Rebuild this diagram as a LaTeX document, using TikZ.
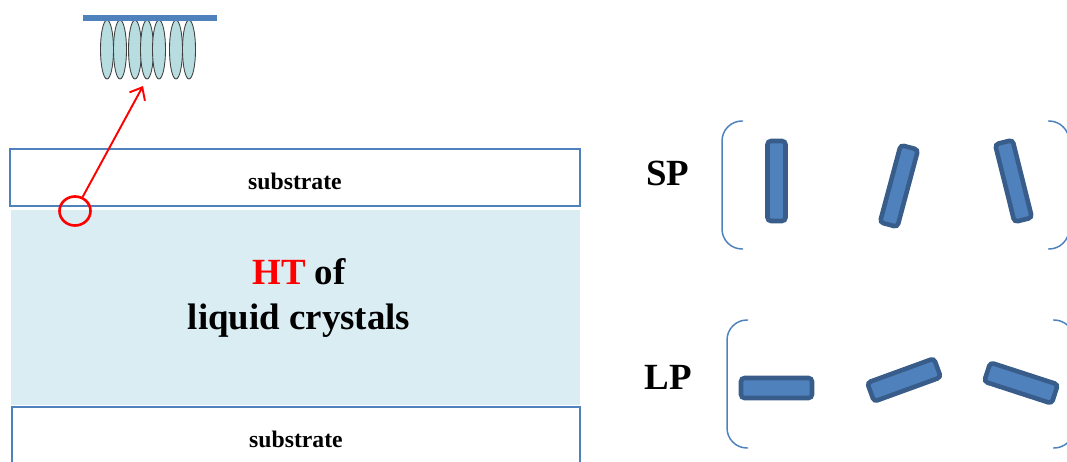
\documentclass[tikz,border=0pt]{standalone}
\usepackage{fontspec}
\setmainfont{Liberation Serif}
\usepackage{tikz}
\usetikzlibrary{arrows.meta, shapes.geometric}

\definecolor{frameblue}{RGB}{79,129,189}
\definecolor{rodedge}{RGB}{56,93,138}
\definecolor{lcblue}{RGB}{218,237,243}
\definecolor{molfill}{RGB}{183,221,224}

\begin{document}
\begin{tikzpicture}
        [
        x = 0.02cm, y = -0.02cm,
        plate/.style = {
            draw = frameblue, line width = 1.1pt,
            minimum width = 11.4cm, minimum height = 1.14cm,
        },
        platetext/.style = {
            font = \bfseries\fontsize{13.5}{16}\selectfont,
        },
        bigtext/.style = {
            align = center,
            font = \bfseries\fontsize{21}{26}\selectfont,
        },
        mol/.style = {
            draw = black!75, fill = molfill, line width = 0.5pt,
            ellipse, inner sep = 0pt,
            minimum width = 0.26cm, minimum height = 1.18cm,
        },
        rod/.style = {
            draw = rodedge, fill = frameblue, line width = 2.6pt,
            rounded corners = 2pt, inner sep = 0pt,
            minimum width = 1.6cm, minimum height = 0.36cm,
        },
        flatrod/.style = {
            rod,
            minimum width = 1.42cm, minimum height = 0.4cm,
        },
        bracket/.style = {
            draw = frameblue, line width = 0.85pt,
            rounded corners = 0.4cm,
        },
        ]

        \useasboundingbox (0,0) rectangle (1067,462);

        % Cell
        \node[plate] (top_substrate) at (295,177.5) {};
        \node[platetext] (top_label) at (295,181) {substrate};
        \node[fill = lcblue, minimum width = 11.38cm, minimum height = 3.9cm] (lc_layer) at (295.5,307.5) {};
        \node[plate, minimum width = 11.36cm, minimum height = 1.2cm] (bottom_substrate) at (296,437) {};
        \node[platetext] (bottom_label) at (296,439) {substrate};
        \node[bigtext] (lc_label) at (299,298) {\textcolor{red}{HT} of\\liquid crystals};

        % Molecules at the surface
        \node[mol] (mol1) at (107,49.5) {};
        \node[mol] (mol2) at (120,49.5) {};
        \node[mol] (mol3) at (135,49.5) {};
        \node[mol] (mol4) at (147,49.5) {};
        \node[mol] (mol5) at (159,49.5) {};
        \node[mol] (mol6) at (176,49.5) {};
        \node[mol] (mol7) at (189,49.5) {};
        \draw[frameblue, line width = 3.4pt] (83,18) -- (217,18);

        % Zoom marker
        \node[draw = red, line width = 1.5pt, ellipse, minimum width = 0.62cm, minimum height = 0.58cm] (spot) at (75,211) {};
        \coordinate (tip) at (143,86);
        \path
            [
            -{Straight Barb[length = 6pt, width = 10pt]},
            red, line width = 1.1pt
            ]
            (spot) edge (tip);

        % SP
        \node[bigtext] (sp_label) at (668,173) {SP};
        \draw[bracket] (743,121) -- (722,121) -- (722,249) -- (743,249);
        \draw[bracket] (1048,121) -- (1069,121) -- (1069,249) -- (1048,249);
        \node[rod, rotate = 90] (sp_rod1) at (776.5,181) {};
        \node[rod, rotate = 75] (sp_rod2) at (899,186) {};
        \node[rod, rotate = 104] (sp_rod3) at (1013.5,181) {};

        % LP
        \node[bigtext] (lp_label) at (668,377) {LP};
        \draw[bracket] (748,320) -- (727,320) -- (727,448) -- (748,448);
        \draw[bracket] (1053,320) -- (1074,320) -- (1074,448) -- (1053,448);
        \node[flatrod] (lp_rod1) at (776.5,388) {};
        \node[flatrod, rotate = 20] (lp_rod2) at (904,380) {};
        \node[flatrod, rotate = -18] (lp_rod3) at (1021,383) {};
    \end{tikzpicture}
\end{document}
